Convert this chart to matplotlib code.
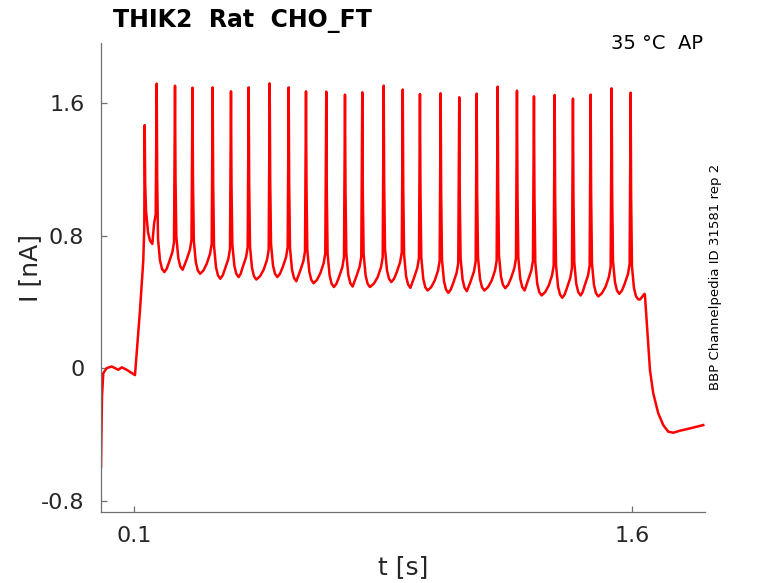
import matplotlib
matplotlib.use("Agg")
import matplotlib.pyplot as plt
import numpy as np

# ---- data ----
title = "THIK2  Rat  CHO_FT"
cond_text = "35 °C  AP"
side_text = "BBP Channelpedia ID 31581 rep 2"
xticks = [0.1, 1.6]
xticklabels = ["0.1", "1.6"]
yticks = [-0.8, 0.0, 0.8, 1.6]
yticklabels = ["-0.8", "0", "0.8", "1.6"]

# pre-stimulus baseline and ramp (t [s], I [nA])
pre_t = [0.0, 0.003, 0.0069, 0.0172, 0.0322, 0.0521, 0.0624, 0.0774, 0.1024, 0.1175, 0.1274, 0.1304]
pre_I = [-0.60, -0.17, -0.03, 0.00, 0.01, -0.01, 0.005, -0.01, -0.042, 0.35, 0.65, 0.85]

# spike times, peak currents and following trough currents
spike_t = [0.1317, 0.1678, 0.2230, 0.2757, 0.3365, 0.3917, 0.4450, 0.5083, 0.5655,
           0.6177, 0.6788, 0.7352, 0.7873, 0.8518, 0.9093, 0.9611, 1.0235, 1.0795,
           1.1320, 1.1952, 1.2534, 1.3046, 1.3670, 1.4221, 1.4754, 1.5387, 1.5959]
spike_peak = [1.468, 1.718, 1.706, 1.694, 1.696, 1.672, 1.696, 1.720, 1.696,
              1.672, 1.670, 1.652, 1.666, 1.706, 1.683, 1.656, 1.660, 1.636,
              1.658, 1.700, 1.676, 1.642, 1.650, 1.628, 1.652, 1.690, 1.664]
trough_I = [0.75, 0.58, 0.594, 0.57, 0.54, 0.55, 0.535, 0.55, 0.525,
            0.513, 0.49, 0.493, 0.49, 0.52, 0.485, 0.469, 0.455, 0.465,
            0.469, 0.483, 0.469, 0.439, 0.425, 0.439, 0.433, 0.449, 0.415]

# post-stimulus decay
post_t = [1.6244, 1.6376, 1.6390, 1.6541, 1.6641, 1.6791, 1.6942, 1.7093, 1.7243, 1.7445, 1.7746, 1.8147]
post_I = [0.415, 0.449, 0.442, -0.01, -0.152, -0.273, -0.344, -0.384, -0.390, -0.378, -0.364, -0.344]

# spike waveform shape (time offsets in s, current offsets above trough in nA)
fall_dt = [0.0015, 0.004, 0.010, 0.016, 0.023]
fall_dI = [None, 0.20, 0.07, 0.02, 0.0]
rise_dt = [0.018, 0.008, 0.003]
rise_dI = [0.06, 0.12, 0.18]

# ---- assemble trace vertices ----
tt = list(pre_t)
yy = list(pre_I)
n = len(spike_t)
for k in range(n):
    tk, pk, tr = spike_t[k], spike_peak[k], trough_I[k]
    tt.append(tk)
    yy.append(pk)
    last = tk
    for dt, dI in zip(fall_dt, fall_dI):
        tt.append(tk + dt)
        yy.append(0.5 * (pk + tr) if dI is None else tr + dI)
        last = tk + dt
    if k < n - 1:
        tn = spike_t[k + 1]
        rise = [(tn - dt, tr + dI) for dt, dI in zip(rise_dt, rise_dI) if tn - dt > last + 0.003]
        if rise and rise[0][0] - last > 0.012:
            tt.append(0.5 * (last + rise[0][0]))
            yy.append(tr + 0.02)
        for a, b in rise:
            tt.append(a)
            yy.append(b)
tt += post_t
yy += post_I

# ---- figure ----
fig = plt.figure(figsize=(7.78, 5.83), dpi=100)
W, H = 778, 583
ax = fig.add_axes([101 / W, 1 - 512 / H, 604 / W, 469 / H])
ax.plot(tt, yy, color="#ff0000", lw=1.8, solid_joinstyle="round")

ax.set_xlim(0.0, 1.82)
ax.set_ylim(-0.869, 1.964)
ax.set_xticks(xticks)
ax.set_xticklabels(xticklabels)
ax.set_yticks(yticks)
ax.set_yticklabels(yticklabels)

for s in ["top", "right"]:
    ax.spines[s].set_visible(False)
for s in ["left", "bottom"]:
    ax.spines[s].set_color("#707070")
    ax.spines[s].set_linewidth(0.9)

ax.tick_params(axis="both", direction="in", length=4.5, width=0.9, color="#707070",
               labelsize=16, labelcolor="#262626")
ax.tick_params(axis="x", pad=10)
ax.tick_params(axis="y", pad=12)

ax.set_xlabel("t [s]", fontsize=18, color="#262626", va="center", ha="center")
ax.xaxis.set_label_coords(0.5, (512 - 567) / 469)
ax.set_ylabel("I [nA]", fontsize=18, color="#262626", va="center", ha="center")
ax.yaxis.set_label_coords((30 - 101) / 604, (512 - 268) / 469)

fig.text(113 / W, 1 - 27 / H, title, fontsize=17, fontweight="bold", ha="left", va="baseline")
fig.text(703 / W, 1 - 49 / H, cond_text, fontsize=14, ha="right", va="baseline")
fig.text(716 / W, 1 - 277 / H, side_text, fontsize=9.5, rotation=90, ha="center", va="center")

fig.savefig("out.png", dpi=100)
